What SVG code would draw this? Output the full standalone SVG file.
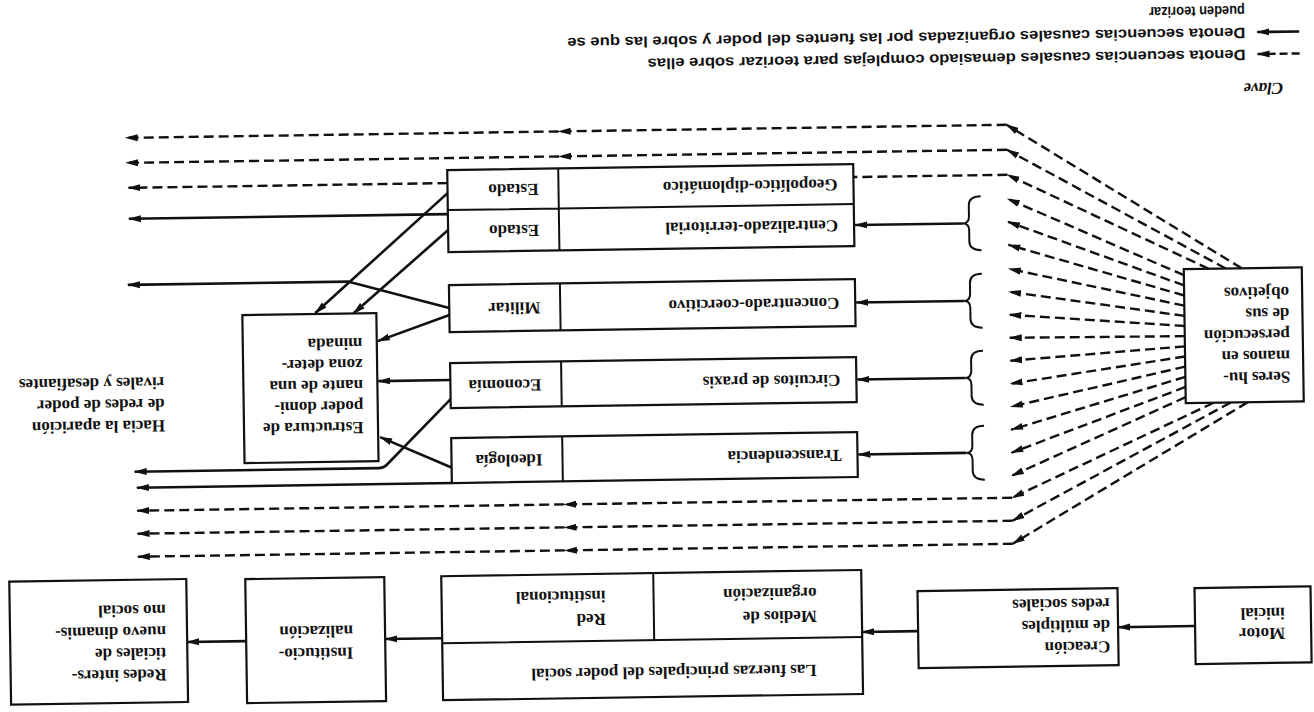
<svg xmlns="http://www.w3.org/2000/svg" width="1314" height="712" viewBox="0 0 1314 712">
<style>
.bx{fill:#fff;stroke:#111;stroke-width:2.2}
.dv{fill:none;stroke:#111;stroke-width:2}
.t{font-family:"Liberation Serif","Times New Roman",serif;font-size:17px;font-weight:bold;fill:#111}
.k{font-family:"Liberation Sans",Arial,sans-serif;font-size:15px;font-weight:bold;fill:#111}
.cv{font-family:"Liberation Serif","Times New Roman",serif;font-size:17px;font-style:italic;font-weight:bold;fill:#111}
.s{fill:none;stroke:#111;stroke-width:2.6;marker-end:url(#ah)}
.d{fill:none;stroke:#111;stroke-width:2.4;stroke-dasharray:10 5;marker-end:url(#ah)}
.d0{fill:none;stroke:#111;stroke-width:2.4;stroke-dasharray:10 5}
.br{fill:none;stroke:#111;stroke-width:2}
</style>
<defs>
<marker id="ah" markerUnits="userSpaceOnUse" markerWidth="14" markerHeight="9" refX="12" refY="4.5" orient="auto">
<path d="M0,1 L13,4.5 L0,8 z" fill="#111"/>
</marker>
</defs>
<rect x="0" y="0" width="1314" height="712" fill="#fff"/>
<g transform="rotate(-0.85 657 356)">

<g id="connectors">
<!-- bottom row -->
<path class="s" d="M1191,634 L1114,634"/>
<path class="s" d="M914,635 L858,635"/>
<path class="s" d="M438,635 L381,635"/>
<path class="s" d="M242,635 L183,635"/>
<!-- braces and source arrows -->
<path class="br" d="M983,201 C975,201 971,204 971,210 L971,221 C971,225 969,228 965,228 C969,228 971,231 971,235 L971,246 C971,252 975,255 983,255"/>
<path class="br" d="M983,278.5 C975,278.5 971,281.5 971,287.5 L971,298.5 C971,302.5 969,305.5 965,305.5 C969,305.5 971,308.5 971,312.5 L971,323.5 C971,329.5 975,332.5 983,332.5"/>
<path class="br" d="M983,355.5 C975,355.5 971,358.5 971,364.5 L971,375.5 C971,379.5 969,382.5 965,382.5 C969,382.5 971,385.5 971,389.5 L971,400.5 C971,406.5 975,409.5 983,409.5"/>
<path class="br" d="M983,430.5 C975,430.5 971,433.5 971,439.5 L971,450.5 C971,454.5 969,457.5 965,457.5 C969,457.5 971,460.5 971,464.5 L971,475.5 C971,481.5 975,484.5 983,484.5"/>
<path class="s" d="M965,228 L857,228"/>
<path class="s" d="M965,305.5 L857,305.5"/>
<path class="s" d="M965,382.5 L857,382.5"/>
<path class="s" d="M965,457.5 L857,457.5"/>
<!-- fan from Seres -->
<path class="d" d="M1243,277 L1010,130"/>
<path class="d" d="M1227,277 L1010,155"/>
<path class="d" d="M1210,277 L1010,180"/>
<path class="d" d="M1185,283 L1010,204"/>
<path class="d" d="M1185,293.2 L1010,227"/>
<path class="d" d="M1185,303.3 L1010,250"/>
<path class="d" d="M1185,313.5 L1010,274"/>
<path class="d" d="M1185,323.7 L1010,297"/>
<path class="d" d="M1185,333.8 L1010,320"/>
<path class="d" d="M1185,344 L1010,343"/>
<path class="d" d="M1185,354.2 L1010,366"/>
<path class="d" d="M1185,364.3 L1010,389"/>
<path class="d" d="M1185,374.5 L1010,412"/>
<path class="d" d="M1185,384.7 L1010,435"/>
<path class="d" d="M1185,394.8 L1010,458"/>
<path class="d" d="M1185,405 L1010,481"/>
<path class="d" d="M1213,411 L1010,503"/>
<path class="d" d="M1230,411 L1010,526"/>
<path class="d" d="M1247,411 L1010,549"/>
<!-- long dashed lines -->
<path class="d" d="M1010,130 L562,130"/>
<path class="d" d="M562,130 L129,130"/>
<path class="d" d="M1010,155 L562,155"/>
<path class="d" d="M562,155 L129,155"/>
<path class="d0" d="M1010,180 L856,180"/>
<path class="d" d="M450,180 L131,180"/>
<path class="d" d="M1010,503 L562,503"/>
<path class="d" d="M562,503 L135,503"/>
<path class="d" d="M1010,526 L562,526"/>
<path class="d" d="M562,526 L135,526"/>
<path class="d" d="M1010,549 L562,549"/>
<path class="d" d="M562,549 L135,549"/>
<!-- solid lines left side -->
<path class="s" d="M450,211 L131,211"/>
<path class="s" d="M450,305 L349,277 L129,277"/>
<path class="s" d="M450,190 L316,308"/>
<path class="s" d="M450,227 L354,309"/>
<path class="s" d="M450,312 L378,337"/>
<path class="s" d="M451,377 L378,377"/>
<path class="s" d="M451,395 L385,461 Q382,464 377,464 L133,464"/>
<path class="s" d="M451,465 L379,433"/>
<path class="s" d="M450,480 L135,480"/>
</g>

<g id="node-motor">
<rect class="bx" x="1191" y="596" width="116" height="76"/>
<text class="t" transform="rotate(180 1281 637)" x="1281" y="637">Motor<tspan x="1281" dy="20">inicial</tspan></text>
</g>

<g id="node-creacion">
<rect class="bx" x="914" y="595" width="200" height="77"/>
<text class="t" transform="rotate(180 1106 648)" x="1106" y="648">Creación<tspan x="1106" dy="21.5">de múltiples</tspan><tspan x="1106" dy="21.5">redes sociales</tspan></text>
</g>

<g id="node-fuerzas">
<rect class="bx" x="438" y="573" width="420" height="124"/>
<path class="dv" d="M438,640 L858,640 M650,573 L650,640"/>
<text class="t" transform="rotate(180 812 667)" x="812" y="667">Las fuerzas principales del poder social</text>
<text class="t" transform="rotate(180 813 613)" x="813" y="613">Medios de<tspan x="813" dy="23">organización</tspan></text>
<text class="t" transform="rotate(180 602 613)" x="602" y="613">Red<tspan x="602" dy="23">institucional</tspan></text>
</g>

<g id="node-institucionalizacion">
<rect class="bx" x="242" y="573" width="139" height="124"/>
<text class="t" transform="rotate(180 349 643)" x="349" y="643">Institucio-<tspan x="349" dy="22">nalización</tspan></text>
</g>

<g id="node-redes">
<rect class="bx" x="6" y="572" width="177" height="123"/>
<text class="t" transform="rotate(180 162 662)" x="162" y="662">Redes inters-<tspan x="162" dy="21.5">ticiales de</tspan><tspan x="162" dy="21.5">nuevo dinamis-</tspan><tspan x="162" dy="21.5">mo social</tspan></text>
</g>

<g id="node-seres">
<rect class="bx" x="1185" y="277" width="118" height="134"/>
<text class="t" transform="rotate(180 1290 381)" x="1290" y="381">Seres hu-<tspan x="1290" dy="21.2">manos en</tspan><tspan x="1290" dy="21.2">persecución</tspan><tspan x="1290" dy="21.2">de sus</tspan><tspan x="1290" dy="21.2">objetivos</tspan></text>
</g>

<g id="node-estado">
<rect class="bx" x="450" y="167" width="406" height="82"/>
<path class="dv" d="M450,207 L856,207 M561,167 L561,249"/>
<text class="t" transform="rotate(180 541 182)" x="541" y="182">Estado</text>
<text class="t" transform="rotate(180 840 182)" x="840" y="182">Geopolítico-diplomático</text>
<text class="t" transform="rotate(180 541 223)" x="541" y="223">Estado</text>
<text class="t" transform="rotate(180 840 223)" x="840" y="223">Centralizado-territorial</text>
</g>

<g id="node-militar">
<rect class="bx" x="450" y="282" width="406" height="47"/>
<path class="dv" d="M561,282 L561,329"/>
<text class="t" transform="rotate(180 541 300.5)" x="541" y="300.5">Militar</text>
<text class="t" transform="rotate(180 840 300.5)" x="840" y="300.5">Concentrado-coercitivo</text>
</g>

<g id="node-economia">
<rect class="bx" x="450" y="360" width="406" height="45"/>
<path class="dv" d="M561,360 L561,405"/>
<text class="t" transform="rotate(180 541 377.5)" x="541" y="377.5">Economía</text>
<text class="t" transform="rotate(180 840 377.5)" x="840" y="377.5">Circuitos de praxis</text>
</g>

<g id="node-ideologia">
<rect class="bx" x="450" y="435" width="406" height="45"/>
<path class="dv" d="M561,435 L561,480"/>
<text class="t" transform="rotate(180 541 452.5)" x="541" y="452.5">Ideología</text>
<text class="t" transform="rotate(180 840 452.5)" x="840" y="452.5">Transcendencia</text>
</g>

<g id="node-estructura">
<rect class="bx" x="243" y="309" width="134" height="148"/>
<text class="t" transform="rotate(180 362.6 417.6)" x="362.6" y="417.6">Estructura de<tspan x="362.6" dy="21">poder domi-</tspan><tspan x="362.6" dy="21">nante de una</tspan><tspan x="362.6" dy="21">zona deter-</tspan><tspan x="362.6" dy="21">minada</tspan></text>
</g>

<g id="node-hacia">
<text class="t" transform="rotate(180 164 413)" x="164" y="413">Hacia la aparición<tspan x="164" dy="21.5">de redes de poder</tspan><tspan x="164" dy="21.5">rivales y desafiantes</tspan></text>
</g>

<g id="key">
<text class="cv" transform="rotate(180 1287 92)" x="1287" y="92">Clave</text>
<path class="d" style="stroke-dasharray:8 4" d="M1304,63 L1262,63"/>
<text class="k" transform="rotate(180 1250 58.5)" x="1250" y="58.5" textLength="598" lengthAdjust="spacingAndGlyphs">Denota secuencias causales demasiado complejas para teorizar sobre ellas</text>
<path class="s" d="M1304,41 L1262,41"/>
<text class="k" transform="rotate(180 1250 36.5)" x="1250" y="36.5" textLength="678" lengthAdjust="spacingAndGlyphs">Denota secuencias causales organizadas por las fuentes del poder y sobre las que se</text>
<text class="k" transform="rotate(180 1250 14.5)" x="1250" y="14.5" textLength="96" lengthAdjust="spacingAndGlyphs">pueden teorizar</text>
</g>

</g>
</svg>
